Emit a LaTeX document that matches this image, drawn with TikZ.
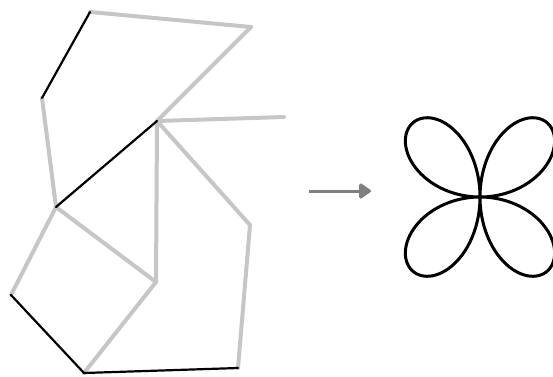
\documentclass[tikz,border=0pt]{standalone}
\usetikzlibrary{arrows.meta}

\begin{document}
\begin{tikzpicture}[
  x=1pt, y=-1pt,
  bar/.style={draw=gray!45, line width=4pt, line cap=round},
  link/.style={draw=black, line width=2.2pt, line cap=round},
  curve/.style={draw=black, line width=3pt, line join=round},
  a/.style={-{Triangle[length=13pt, width=17pt, round]}, draw=gray, line width=3pt}
]
\useasboundingbox (0,0) rectangle (553,376);

% ================= linkage joints =================
\coordinate (pa) at ( 90, 12);
\coordinate (pb) at (251, 27);
\coordinate (pc) at ( 42, 98);
\coordinate (pd) at (157,121);
\coordinate (pe) at (284,117);
\coordinate (pf) at ( 56,207);
\coordinate (pg) at (156,282);
\coordinate (ph) at (250,225);
\coordinate (pi) at ( 11,295);
\coordinate (pj) at ( 84,373);
\coordinate (pk) at (238,368);

% ================= grey bars =================
\draw[bar] (pa) -- (pb);
\draw[bar] (pb) -- (pd);
\draw[bar] (pc) -- (pf);
\draw[bar] (pd) -- (pe);
\draw[bar] (pd) -- (pg);
\draw[bar] (pd) -- (ph);
\draw[bar] (ph) -- (pk);
\draw[bar] (pf) -- (pg);
\draw[bar] (pf) -- (pi);
\draw[bar] (pg) -- (pj);

% ================= black links =================
\draw[link] (pa) -- (pc);
\draw[link] (pd) -- (pf);
\draw[link] (pi) -- (pj);
\draw[link] (pj) -- (pk);

% ================= arrow and traced curve =================
\coordinate (from) at (309,191);
\coordinate (to)   at (371,191);
\draw[a] (from) -- (to);

\coordinate (rose) at (480,197);
\draw[curve] plot[domain=0:360, samples=240, smooth cycle]
  ({480 + 97*sin(2*\x)*cos(\x)}, {197 + 103*sin(2*\x)*sin(\x)});
\end{tikzpicture}
\end{document}
